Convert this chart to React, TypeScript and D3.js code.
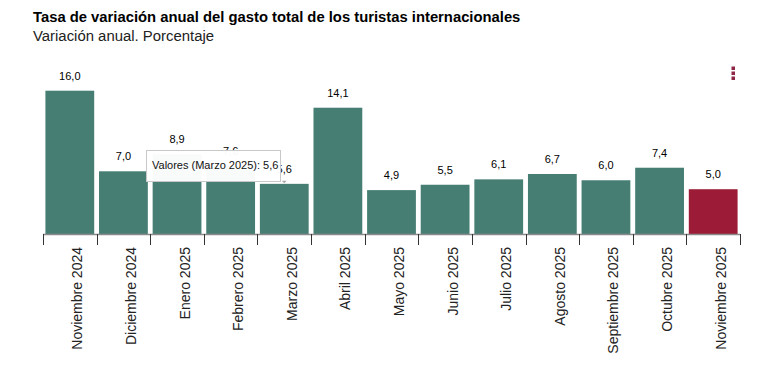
import React from "react";
import * as d3 from "d3";

const categories = [
  "Noviembre 2024", "Diciembre 2024", "Enero 2025", "Febrero 2025", "Marzo 2025",
  "Abril 2025", "Mayo 2025", "Junio 2025", "Julio 2025", "Agosto 2025",
  "Septiembre 2025", "Octubre 2025", "Noviembre 2025",
];
const values = [16.0, 7.0, 8.9, 7.6, 5.6, 14.1, 4.9, 5.5, 6.1, 6.7, 6.0, 7.4, 5.0];
const title = "Tasa de variación anual del gasto total de los turistas internacionales";
const subtitle = "Variación anual. Porcentaje";
const tooltipIndex = 4;

const W = 758, H = 378;
const left = 43, right = 740, base = 234;
const FONT = "'Liberation Sans', Arial, sans-serif";
const TEAL = "#467e74";
const RED = "#9c1b36";

export default function App() {
  const x = d3.scaleBand<string>().domain(categories).range([left, right]).paddingInner(0.09).paddingOuter(0.045);
  const step = x.step();
  const y = d3.scaleLinear().domain([0, 16]).range([base, 90.7]);
  const fmt = (v: number) => v.toFixed(1).replace(".", ",");
  const ticks = d3.range(categories.length + 1).map((i) => left + i * step);
  const tx = x(categories[tooltipIndex])! + x.bandwidth() / 2;
  const ty = y(values[tooltipIndex]);
  return (
    <svg width={W} height={H} style={{ position: "absolute", left: 0, top: 0, background: "#fff" }} fontFamily={FONT}>
      <rect width={W} height={H} fill="#fff" />
      <text x={33} y={22} fontSize={14.8} fontWeight="bold" fill="#000">{title}</text>
      <text x={33} y={40.5} fontSize={14.9} fill="#222">{subtitle}</text>
      {[0, 1, 2].map((i) => (
        <rect key={i} x={731.5} y={66.5 + i * 5} width={3.5} height={3.5} fill="#8e2746" />
      ))}
      {categories.map((c, i) => (
        <rect key={c} x={x(c)} y={y(values[i])} width={x.bandwidth()} height={base - y(values[i])}
          fill={i === categories.length - 1 ? RED : TEAL} />
      ))}
      {categories.map((c, i) => (
        <text key={c + "v"} x={x(c)! + x.bandwidth() / 2} y={y(values[i]) - 11} fontSize={11} textAnchor="middle" fill="#000">
          {fmt(values[i])}
        </text>
      ))}
      <line x1={left} x2={right} y1={base + 0.5} y2={base + 0.5} stroke="#8a8a8a" strokeWidth={1.5} />
      {ticks.map((t, i) => (
        <line key={i} x1={Math.round(t) + 0.5} x2={Math.round(t) + 0.5} y1={base} y2={base + 11} stroke="#333" strokeWidth={1} />
      ))}
      {categories.map((c, i) => {
        const cx = left + step * (i + 0.5) + 12.5;
        return (
          <text key={c + "l"} transform={`translate(${cx},247) rotate(-90)`} fontSize={14} textAnchor="end" fill="#222">
            {c}
          </text>
        );
      })}
      <path d={`M${tx},${ty - 0.5} l-2.5,-2.5 l5,0 z`} fill="#aaa" />
      <g>
        <rect x={146.5} y={150.5} width={134} height={31} fill="#fff" fillOpacity={0.97} stroke="#c8c8c8" strokeWidth={1} />
        <text x={152} y={169} fontSize={11} fill="#111">{`Valores (${categories[tooltipIndex]}): ${fmt(values[tooltipIndex])}`}</text>
      </g>
    </svg>
  );
}
